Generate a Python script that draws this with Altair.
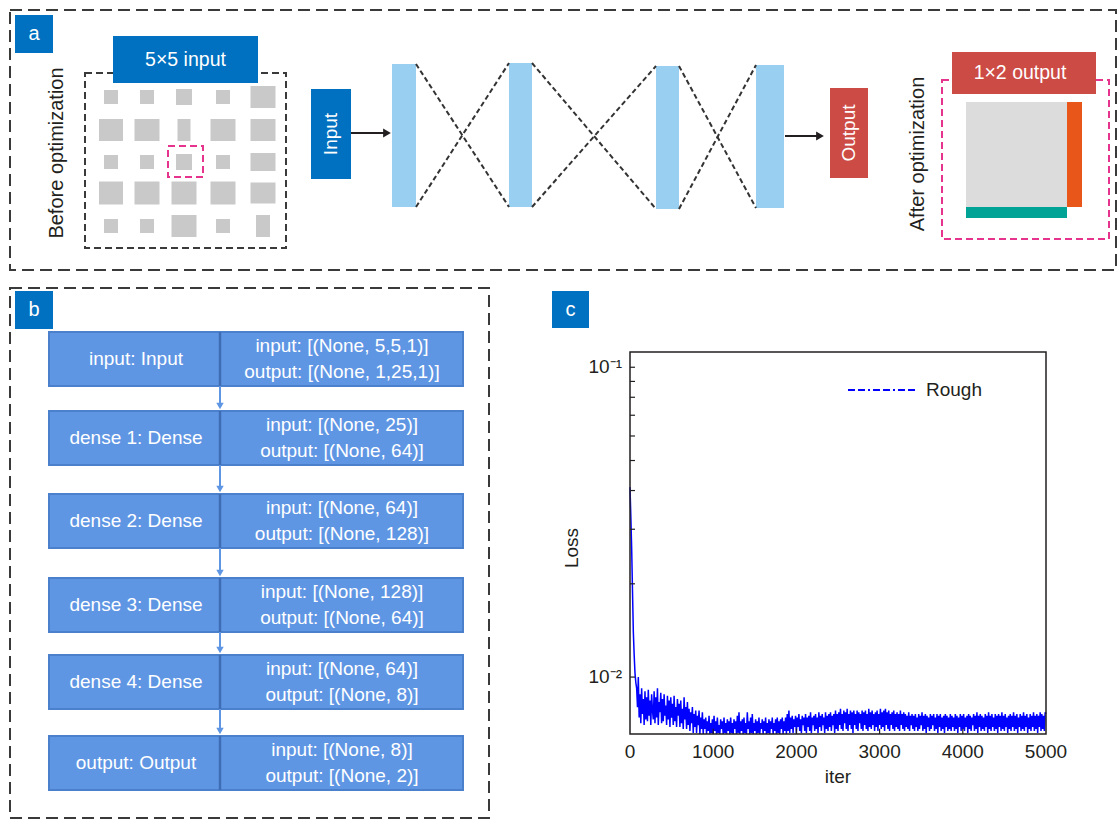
import altair as alt
import pandas as pd

# ------------------------------------------------------------------
# Panel b: network summary (one row per layer)
# ------------------------------------------------------------------
layer_names = [
    "input: Input", "dense 1: Dense", "dense 2: Dense",
    "dense 3: Dense", "dense 4: Dense", "output: Output",
]
layer_inputs = [
    "input: [(None, 5,5,1)]", "input: [(None, 25)]", "input: [(None, 64)]",
    "input: [(None, 128)]", "input: [(None, 64)]", "input: [(None, 8)]",
]
layer_outputs = [
    "output: [(None, 1,25,1)]", "output: [(None, 64)]", "output: [(None, 128)]",
    "output: [(None, 64)]", "output: [(None, 8)]", "output: [(None, 2)]",
]

# ------------------------------------------------------------------
# Panel c: training loss, one value every 10 iterations (x 1e-4)
# ------------------------------------------------------------------
ITER_STEP = 10
loss_x1e4 = [
    410, 330, 260, 190, 140, 118, 103, 96, 92, 80,
    100, 74, 88, 71, 92, 76, 85, 70, 90, 73,
    86, 72, 91, 75, 84, 70, 88, 78, 73, 90,
    71, 86, 74, 92, 70, 83, 77, 89, 71, 85,
    72, 88, 75, 81, 70, 87, 73, 84, 69, 86,
    74, 82, 70, 87, 72, 80, 69, 85, 75, 82,
    69, 84, 71, 79, 68, 86, 73, 80, 68, 83,
    70, 79, 67, 77, 71, 80, 66, 76, 69, 78,
    66, 75, 70, 78, 65, 74, 68, 77, 65, 73,
    68, 74, 64, 72, 67, 75, 63, 71, 66, 73,
    64, 75, 67, 72, 63, 74, 66, 70, 64, 73,
    68, 72, 63, 74, 66, 71, 64, 73, 67, 72,
    63, 74, 66, 71, 64, 73, 68, 72, 63, 75,
    66, 77, 64, 72, 67, 73, 63, 74, 66, 71,
    64, 77, 68, 72, 64, 74, 66, 76, 64, 71,
    67, 73, 64, 72, 66, 74, 65, 71, 68, 73,
    64, 72, 67, 74, 65, 71, 66, 73, 64, 72,
    68, 74, 65, 71, 67, 73, 64, 74, 66, 72,
    65, 73, 68, 74, 65, 72, 67, 74, 65, 76,
    67, 78, 66, 74, 68, 75, 66, 73, 69, 75,
    66, 74, 69, 76, 67, 73, 66, 75, 70, 74,
    67, 76, 66, 74, 69, 75, 67, 77, 66, 74,
    70, 75, 67, 76, 68, 74, 66, 77, 69, 75,
    67, 76, 70, 74, 66, 77, 68, 75, 67, 76,
    69, 77, 67, 75, 70, 76, 66, 78, 68, 76,
    67, 77, 70, 79, 68, 76, 67, 78, 71, 77,
    68, 79, 67, 76, 70, 78, 68, 77, 66, 78,
    70, 76, 68, 78, 67, 77, 71, 76, 68, 78,
    67, 77, 70, 78, 68, 76, 67, 79, 69, 77,
    68, 78, 70, 76, 67, 77, 69, 78, 67, 76,
    70, 79, 68, 77, 69, 78, 67, 79, 70, 77,
    68, 78, 67, 76, 70, 77, 68, 78, 67, 76,
    69, 77, 68, 76, 67, 78, 70, 76, 68, 77,
    67, 76, 69, 75, 68, 77, 67, 75, 70, 76,
    68, 75, 67, 76, 69, 74, 67, 76, 68, 75,
    70, 77, 67, 75, 68, 76, 66, 75, 69, 74,
    67, 76, 68, 75, 70, 76, 67, 74, 68, 76,
    66, 75, 69, 76, 67, 74, 68, 75, 66, 76,
    69, 75, 67, 74, 68, 76, 67, 75, 69, 74,
    67, 76, 68, 75, 66, 74, 69, 76, 67, 75,
    68, 76, 67, 74, 69, 75, 66, 76, 68, 75,
    67, 74, 70, 76, 67, 75, 68, 77, 66, 75,
    69, 76, 67, 75, 68, 74, 67, 76, 69, 75,
    66, 77, 68, 75, 67, 76, 69, 74, 67, 76,
    68, 75, 66, 76, 69, 75, 67, 77, 68, 75,
    67, 76, 69, 74, 66, 75, 68, 76, 67, 75,
    69, 77, 67, 75, 68, 76, 66, 74, 69, 76,
    67, 75, 68, 77, 67, 75, 69, 76, 66, 74,
    68, 76, 67, 75, 69, 77, 67, 75, 68, 76,
    66, 75, 69, 77, 67, 76, 68, 75, 67, 77,
    76,
]
iter_ticks = [0, 1000, 2000, 3000, 4000, 5000]
loss_major = [0.01, 0.1]
loss_major_text = ["10⁻²", "10⁻¹"]
loss_minor = [0.02, 0.03, 0.04, 0.05, 0.06, 0.07, 0.08, 0.09]
iter_domain = [0, 5000]
loss_domain = [0.00655, 0.112]
series_name = "Rough"

# ------------------------------------------------------------------
# Panel a: 5x5 input pattern, cell widths / heights (row by row)
# ------------------------------------------------------------------
cell_w = [
    [14, 14, 16, 14, 25],
    [24, 25, 13, 25, 25],
    [14, 14, 16, 14, 25],
    [24, 25, 25, 25, 25],
    [14, 14, 25, 14, 14],
]
cell_h = [
    [14, 14, 16, 14, 22],
    [22, 22, 22, 22, 22],
    [14, 14, 16, 14, 18],
    [23, 23, 23, 23, 21],
    [14, 14, 22, 14, 22],
]

# ------------------------------------------------------------------
# Layout and style
# ------------------------------------------------------------------
W, H = 1119, 821
FONT = "Liberation Sans"
DARK = "#231F20"
FRAME = "#3A3A3A"
BLUE = "#0070C0"
RED = "#CD4B45"
SKY = "#99CFF0"
PINK = "#E6338E"
CELL = "#C9C9C9"
TABLE_FILL = "#5F96E4"
TABLE_EDGE = "#4B80CC"
TABLE_DIV = "#3F6DB5"
LINE_BLUE = "#0000FF"

grid_cols = [111, 147, 184, 223, 263]
grid_rows = [97, 130, 162, 193, 226]
bars = [(392, 416, 64, 207), (509, 532, 63, 207), (656, 679, 66, 209), (756, 784, 65, 208)]
TBL_L, TBL_DIV, TBL_R = 49, 220, 463
table_tops = [332, 411, 494, 578, 655, 736]
ROW_H = 54
PLOT_L, PLOT_R, PLOT_T, PLOT_B = 630, 1046, 352, 734

CX = alt.Scale(domain=[0, W], range=[0, W], nice=False, zero=False)
CY = alt.Scale(domain=[0, H], range=[0, H], nice=False, zero=False)


def box(x0, y0, x1, y1, **kw):
    return dict(x0=x0, y0=y0, x1=x1, y1=y1, **kw)


def rect_xy(chart):
    return chart.encode(
        x=alt.X("x0:Q", scale=CX, axis=None),
        x2="x1:Q",
        y=alt.Y("y0:Q", scale=CY, axis=None),
        y2="y1:Q",
    )


def seg_xy(chart):
    return chart.encode(
        x=alt.X("x0:Q", scale=CX, axis=None),
        y=alt.Y("y0:Q", scale=CY, axis=None),
        x2="x1:Q",
        y2="y1:Q",
    )


def pt_xy(chart):
    return chart.encode(
        x=alt.X("x:Q", scale=CX, axis=None),
        y=alt.Y("y:Q", scale=CY, axis=None),
    )


# ---- dashed frames ----
dark_frames = pd.DataFrame([
    box(10, 10, 1116, 270),
    box(10, 288, 489, 818),
])
grid_frame = pd.DataFrame([box(85, 73, 286, 248)])
pink_frames = pd.DataFrame([
    box(168, 146, 203, 177),
    box(942, 80, 1109, 239),
])

layers = [
    rect_xy(alt.Chart(dark_frames).mark_rect(
        fillOpacity=0, stroke=FRAME, strokeWidth=2, strokeDash=[12, 6])),
    rect_xy(alt.Chart(grid_frame).mark_rect(
        fillOpacity=0, stroke=FRAME, strokeWidth=2, strokeDash=[7, 4])),
    rect_xy(alt.Chart(pink_frames).mark_rect(
        fillOpacity=0, stroke=PINK, strokeWidth=2, strokeDash=[7, 4])),
]

# ---- filled boxes ----
solid = [
    box(15, 15, 53, 53, fill=BLUE),
    box(15, 291, 53, 329, fill=BLUE),
    box(552, 291, 589, 328, fill=BLUE),
    box(113, 36, 258, 83, fill=BLUE),
    box(311, 89, 351, 179, fill=BLUE),
    box(830, 88, 868, 178, fill=RED),
    box(952, 52, 1096, 94, fill=RED),
    box(966, 102, 1067, 207, fill="#DCDCDC"),
    box(1067, 102, 1082, 207, fill="#E8561A"),
    box(966, 207, 1067, 218, fill="#00A396"),
]
for bx0, bx1, by0, by1 in bars:
    solid.append(box(bx0, by0, bx1, by1, fill=SKY))
for r, cy in enumerate(grid_rows):
    for c, cx in enumerate(grid_cols):
        w, h = cell_w[r][c], cell_h[r][c]
        solid.append(box(cx - w / 2, cy - h / 2, cx + w / 2, cy + h / 2, fill=CELL))
layers.append(rect_xy(alt.Chart(pd.DataFrame(solid)).mark_rect().encode(
    fill=alt.Fill("fill:N", scale=None))))

# ---- panel b table ----
table = pd.DataFrame([box(TBL_L, t, TBL_R, t + ROW_H) for t in table_tops])
layers.append(rect_xy(alt.Chart(table).mark_rect(
    fill=TABLE_FILL, stroke=TABLE_EDGE, strokeWidth=2)))
dividers = pd.DataFrame([box(TBL_DIV, t, TBL_DIV, t + ROW_H) for t in table_tops])
layers.append(seg_xy(alt.Chart(dividers).mark_rule(color=TABLE_DIV, strokeWidth=2.5)))
links = pd.DataFrame([
    box(TBL_DIV, table_tops[i] + ROW_H, TBL_DIV, table_tops[i + 1] - 5)
    for i in range(len(table_tops) - 1)
])
layers.append(seg_xy(alt.Chart(links).mark_rule(color=TABLE_FILL, strokeWidth=2)))
link_heads = pd.DataFrame([dict(x=TBL_DIV, y=t - 5) for t in table_tops[1:]])
layers.append(pt_xy(alt.Chart(link_heads).mark_point(
    shape="triangle-down", filled=True, size=55, opacity=1, color=TABLE_FILL)))

# ---- panel a connections ----
cross = []
for (a0, a1, ay0, ay1), (b0, b1, by0, by1) in zip(bars[:-1], bars[1:]):
    cross.append(box(a1, ay0, b0, by1))
    cross.append(box(a1, ay1, b0, by0))
layers.append(seg_xy(alt.Chart(pd.DataFrame(cross)).mark_rule(
    color="#333333", strokeWidth=2, strokeDash=[5, 3])))
arrows = pd.DataFrame([box(351, 133, 386, 133), box(785, 136, 819, 136)])
layers.append(seg_xy(alt.Chart(arrows).mark_rule(color=DARK, strokeWidth=2.2)))
heads = pd.DataFrame([dict(x=387, y=133), dict(x=820, y=136)])
layers.append(pt_xy(alt.Chart(heads).mark_point(
    shape="triangle-right", filled=True, size=80, opacity=1, color=DARK)))

# ---- legend sample for panel c ----
legend_line = pd.DataFrame([box(848, 390, 916, 390)])
layers.append(seg_xy(alt.Chart(legend_line).mark_rule(
    color=LINE_BLUE, strokeWidth=2, strokeDash=[7, 3, 7, 3, 2, 3])))

# ---- texts ----
texts = [
    dict(x=34, y=34, t="a", c="white", s=20),
    dict(x=34, y=310, t="b", c="white", s=20),
    dict(x=570.5, y=309.5, t="c", c="white", s=20),
    dict(x=185.5, y=60, t="5×5 input", c="white", s=19.5),
    dict(x=1020, y=73, t="1×2 output", c="white", s=19.5),
    dict(x=838, y=777, t="iter", c=DARK, s=19),
]
for i, t in enumerate(table_tops):
    texts.append(dict(x=136, y=t + 27, t=layer_names[i], c="white", s=19))
    texts.append(dict(x=342, y=t + 14, t=layer_inputs[i], c="white", s=19))
    texts.append(dict(x=342, y=t + 40, t=layer_outputs[i], c="white", s=19))
layers.append(pt_xy(alt.Chart(pd.DataFrame(texts)).mark_text(
    font=FONT, align="center", baseline="middle").encode(
    text="t:N", color=alt.Color("c:N", scale=None), size=alt.Size("s:Q", scale=None))))

vtexts = pd.DataFrame([
    dict(x=57, y=153, t="Before optimization", c=DARK, s=20),
    dict(x=918, y=154, t="After optimization", c=DARK, s=20),
    dict(x=331, y=134, t="Input", c="white", s=19),
    dict(x=849, y=133, t="Output", c="white", s=19),
    dict(x=572, y=548, t="Loss", c=DARK, s=19),
])
layers.append(pt_xy(alt.Chart(vtexts).mark_text(
    font=FONT, align="center", baseline="middle", angle=270).encode(
    text="t:N", color=alt.Color("c:N", scale=None), size=alt.Size("s:Q", scale=None))))

legend_text = pd.DataFrame([dict(x=926, y=390, t=series_name)])
layers.append(pt_xy(alt.Chart(legend_text).mark_text(
    font=FONT, fontSize=19, align="left", baseline="middle", color=DARK).encode(text="t:N")))

canvas = alt.layer(*layers)

# ------------------------------------------------------------------
# Panel c plot (its own iteration / log-loss scales)
# ------------------------------------------------------------------
LX = alt.Scale(domain=iter_domain, range=[PLOT_L, PLOT_R], nice=False, zero=False)
LY = alt.Scale(type="log", domain=loss_domain, range=[PLOT_B, PLOT_T], nice=False, clamp=True)

loss_df = pd.DataFrame({
    "iter": [i * ITER_STEP for i in range(len(loss_x1e4))],
    "loss": [v / 1e4 for v in loss_x1e4],
})

loss_line = alt.Chart(loss_df).mark_line(color=LINE_BLUE, strokeWidth=1.5).encode(
    x=alt.X("iter:Q", scale=LX, axis=None),
    y=alt.Y("loss:Q", scale=LY, axis=None),
)

frame_df = pd.DataFrame([dict(x0=iter_domain[0], x1=iter_domain[1],
                              y0=loss_domain[0], y1=loss_domain[1])])
frame = alt.Chart(frame_df).mark_rect(fillOpacity=0, stroke=DARK, strokeWidth=1.5).encode(
    x=alt.X("x0:Q", scale=LX, axis=None), x2="x1:Q",
    y=alt.Y("y0:Q", scale=LY, axis=None), y2="y1:Q",
)

TICK_ITER = 60       # inward tick length in iteration units
TICK_FACTOR = 1.04   # inward tick length on the log axis
ytick_df = pd.DataFrame({"v": loss_major + loss_minor})
yticks = alt.Chart(ytick_df).mark_rule(color=DARK, strokeWidth=1.2).encode(
    x=alt.X("a:Q", scale=LX, axis=None), x2="b:Q",
    y=alt.Y("v:Q", scale=LY, axis=None),
).transform_calculate(a=str(iter_domain[0]), b=str(iter_domain[0] + TICK_ITER))
xtick_df = pd.DataFrame({"v": iter_ticks[1:-1]})
xticks = alt.Chart(xtick_df).mark_rule(color=DARK, strokeWidth=1.2).encode(
    x=alt.X("v:Q", scale=LX, axis=None),
    y=alt.Y("a:Q", scale=LY, axis=None), y2="b:Q",
).transform_calculate(a=str(loss_domain[0]), b=str(loss_domain[0] * TICK_FACTOR))

# tick labels placed through the panel's own scales
xlab_df = pd.DataFrame({"v": iter_ticks, "t": [str(v) for v in iter_ticks]})
xlabels = alt.Chart(xlab_df).mark_text(
    font=FONT, fontSize=19, color=DARK, align="center", baseline="middle", dy=18,
).encode(
    x=alt.X("v:Q", scale=LX, axis=None),
    y=alt.Y("a:Q", scale=LY, axis=None),
    text="t:N",
).transform_calculate(a=str(loss_domain[0]))
ylab_df = pd.DataFrame({"v": loss_major, "t": loss_major_text})
ylabels = alt.Chart(ylab_df).mark_text(
    font=FONT, fontSize=19, color=DARK, align="right", baseline="middle", dx=-8,
).encode(
    x=alt.X("a:Q", scale=LX, axis=None),
    y=alt.Y("v:Q", scale=LY, axis=None),
    text="t:N",
).transform_calculate(a=str(iter_domain[0]))

loss_panel = alt.layer(loss_line, yticks, xticks, frame, xlabels, ylabels)

chart = alt.layer(canvas, loss_panel).resolve_scale(
    x="independent", y="independent"
).properties(
    width=W, height=H, autosize=alt.AutoSizeParams(type="none"), padding=0,
    background="white",
).configure_view(stroke=None)

chart.save("out.html", embed_options={"renderer": "svg", "actions": False})
